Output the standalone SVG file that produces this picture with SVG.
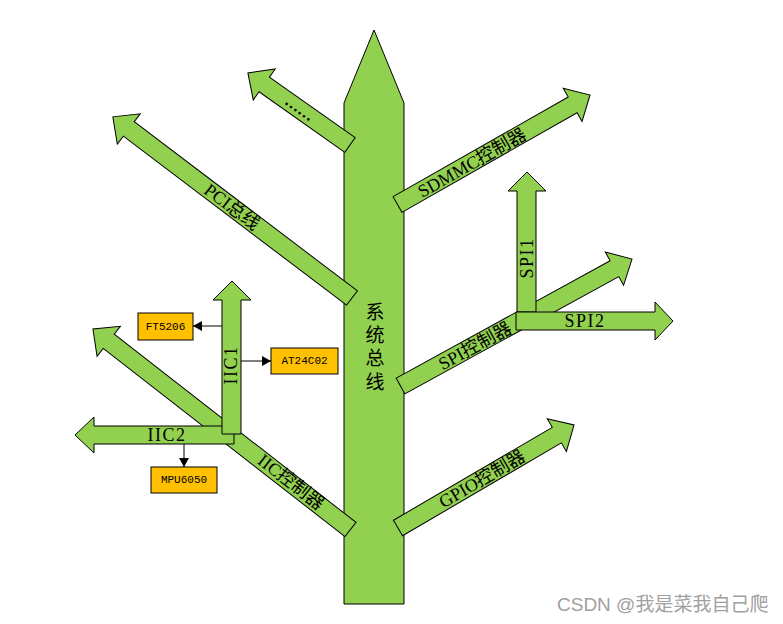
<svg xmlns="http://www.w3.org/2000/svg" width="783" height="624" viewBox="0 0 783 624">
<style>
.arr{fill:#92D050;stroke:#000;stroke-width:1;stroke-linejoin:miter}
.lbl{font-family:"Liberation Serif","Noto Sans CJK SC",serif;font-size:18px;fill:#000;text-anchor:middle;dominant-baseline:central}
.lbl2{font-family:"Liberation Serif","Noto Sans CJK SC",serif;font-size:18px;letter-spacing:1.5px;fill:#000;text-anchor:middle;dominant-baseline:central}
.box{fill:#FFC000;stroke:#000;stroke-width:1}
.btxt{font-family:"Liberation Mono",monospace;font-size:11px;fill:#000;text-anchor:middle;dominant-baseline:central}
.conn{stroke:#000;stroke-width:1;fill:none;marker-end:url(#ah)}
</style>
<defs>
<marker id="ah" markerUnits="userSpaceOnUse" markerWidth="10" markerHeight="10" refX="9" refY="5" orient="auto">
<path d="M0,0 L9,5 L0,10 z" fill="#000"/>
</marker>
</defs>
<rect width="783" height="624" fill="#fff"/>

<g id="trunk">
<polygon class="arr" points="344,103 374,30 404,103 404,604 344,604"/>
<text class="lbl" style="font-size:19px" x="375" y="312">系</text>
<text class="lbl" style="font-size:19px" x="375" y="335">统</text>
<text class="lbl" style="font-size:19px" x="375" y="358">总</text>
<text class="lbl" style="font-size:19px" x="375" y="382">线</text>
</g>

<g id="branch-dots">
<polygon class="arr" transform="translate(350,145) rotate(-144.78)" points="0,-9 105,-9 105,-19 125,0 105,19 105,9 0,9"/>
<text class="lbl" style="font-size:16px;font-weight:bold" transform="translate(300,108) rotate(35.2)">……</text>
</g>

<g id="branch-pci">
<polygon class="arr" transform="translate(352,298) rotate(-142.86)" points="0,-9 280,-9 280,-19 300,0 280,19 280,9 0,9"/>
<text class="lbl" transform="translate(232,207) rotate(37.1)">PCI总线</text>
</g>

<g id="branch-sdmmc">
<polygon class="arr" transform="translate(397.5,204.5) rotate(-29.63)" points="0,-9 201.5,-9 201.5,-19 221.5,0 201.5,19 201.5,9 0,9"/>
<text class="lbl" transform="translate(472,163) rotate(-29.6)">SDMMC控制器</text>
</g>

<g id="branch-spi">
<polygon class="arr" transform="translate(400.5,386) rotate(-28.74)" points="0,-9 244,-9 244,-19 264,0 244,19 244,9 0,9"/>
<text class="lbl" transform="translate(475,346) rotate(-28.7)">SPI控制器</text>
</g>

<g id="spi1">
<polygon class="arr" points="517,312 517,191 508,191 527,172 546,191 536,191 536,312"/>
<text class="lbl2" transform="translate(527,258) rotate(-90)">SPI1</text>
</g>

<g id="spi2">
<polygon class="arr" points="516,312 655,312 655,302 673,321 655,340 655,330 516,330"/>
<text class="lbl2" x="585" y="321">SPI2</text>
</g>

<g id="branch-gpio">
<polygon class="arr" transform="translate(398,528) rotate(-30.33)" points="0,-9 184,-9 184,-19 204,0 184,19 184,9 0,9"/>
<text class="lbl" transform="translate(482,479) rotate(-30.3)">GPIO控制器</text>
</g>

<g id="branch-iic">
<polygon class="arr" transform="translate(350.5,529.5) rotate(-142.1)" points="0,-9 306.4,-9 306.4,-19 326.4,0 306.4,19 306.4,9 0,9"/>
<text class="lbl" transform="translate(291,482) rotate(37.9)">IIC控制器</text>
</g>

<g id="iic2">
<polygon class="arr" points="234,426 94,426 94,417 75,435 94,453 94,444 234,444"/>
<text class="lbl2" x="167" y="435">IIC2</text>
</g>

<g id="iic1">
<polygon class="arr" points="222,434 222,300 213,300 232,281 251,300 241,300 241,434"/>
<text class="lbl2" transform="translate(231,365) rotate(-90)">IIC1</text>
</g>

<g id="ft5206">
<rect class="box" x="138" y="313" width="55" height="27"/>
<text class="btxt" x="165.5" y="327">FT5206</text>
</g>
<g id="at24c02">
<rect class="box" x="271" y="348" width="67" height="26"/>
<text class="btxt" x="304.5" y="361">AT24C02</text>
</g>
<g id="mpu6050">
<rect class="box" x="151" y="467" width="66" height="26"/>
<text class="btxt" x="184" y="480">MPU6050</text>
</g>

<g id="connectors">
<line class="conn" x1="222" y1="326" x2="193" y2="326"/>
<line class="conn" x1="241" y1="361" x2="271" y2="361"/>
<line class="conn" x1="184" y1="444" x2="184" y2="467"/>
</g>

<text x="557" y="611" style="font-family:'Liberation Sans','Noto Sans CJK SC',sans-serif;font-size:19px;fill:#a0a0a0">CSDN @我是菜我自己爬</text>
</svg>
